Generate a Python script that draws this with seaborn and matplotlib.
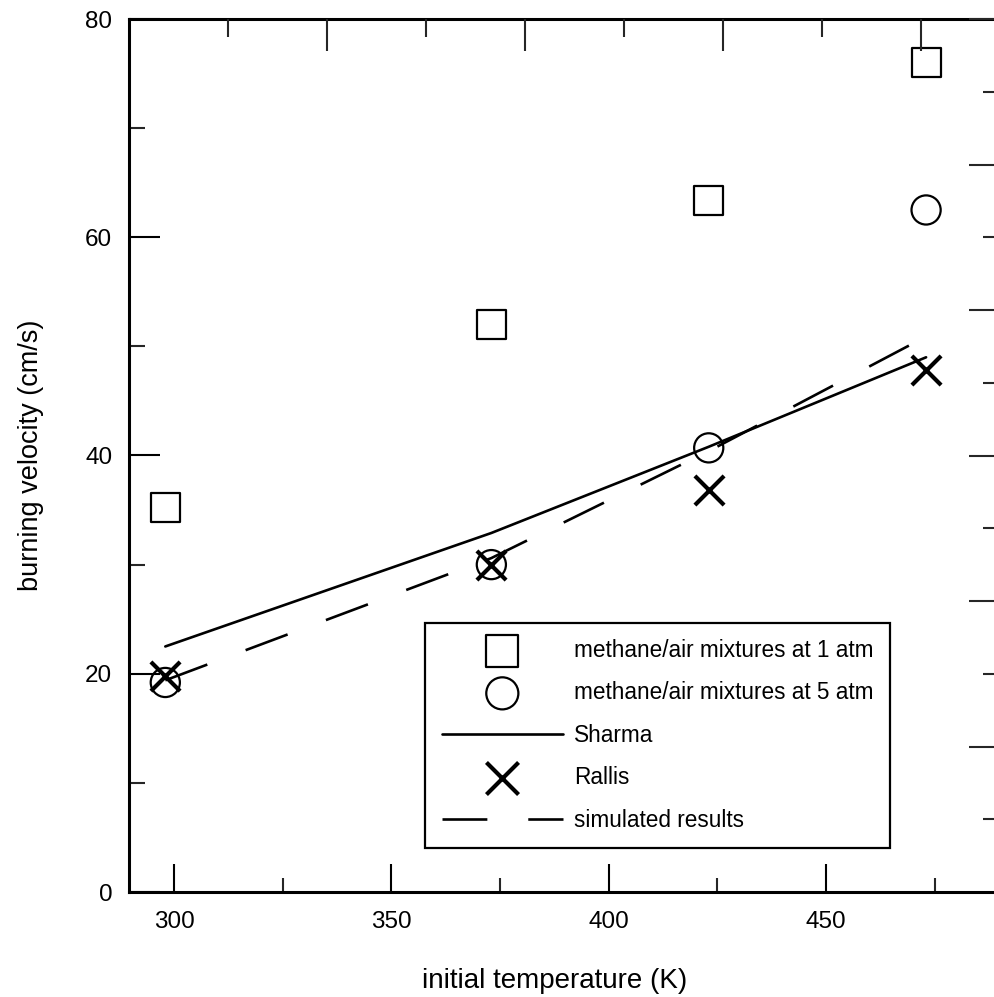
import matplotlib
matplotlib.use("Agg")
import matplotlib.pyplot as plt
from matplotlib.ticker import FixedLocator, NullFormatter
import seaborn as sns
import pandas as pd

# ---- data ----
temps = [298, 373, 423, 473]
v_1atm = [35.2, 52.0, 63.4, 76.0]
v_5atm = [19.2, 30.0, 40.7, 62.5]
sharma = [22.5, 32.9, 40.8, 49.0]
rallis = [19.8, 30.0, 36.8, 47.8]
simulated = [19.4, 30.6, 40.4, 50.9]

x_major = [300, 350, 400, 450]
x_minor = [325, 375, 425, 475]
y_major = [0, 20, 40, 60, 80]
y_minor = [10, 30, 50, 70]

labels = ["methane/air mixtures at 1 atm", "methane/air mixtures at 5 atm",
          "Sharma", "Rallis", "simulated results"]

df = pd.DataFrame({"T": temps, "v1": v_1atm, "v5": v_5atm,
                   "sharma": sharma, "rallis": rallis, "sim": simulated})

sns.set_theme(style="ticks")
plt.rcParams["font.family"] = ["Liberation Sans", "DejaVu Sans"]

W, H = 994, 997
fig = plt.figure(figsize=(W / 100, H / 100), dpi=100)
L, R, T, B = 129, 1000, 19, 892
ax = fig.add_axes([L / W, 1 - B / H, (R - L) / W, (B - T) / H])

ms = 21
sns.scatterplot(data=df, x="T", y="v1", ax=ax, marker="s", s=ms ** 2,
                facecolor="none", edgecolor="black", linewidth=1.6,
                label=labels[0], zorder=3)
sns.scatterplot(data=df, x="T", y="v5", ax=ax, marker="o", s=ms ** 2,
                facecolor="none", edgecolor="black", linewidth=1.6,
                label=labels[1], zorder=3)
sns.lineplot(data=df, x="T", y="sharma", ax=ax, color="black", linewidth=1.9,
             label=labels[2], zorder=2)
sns.scatterplot(data=df, x="T", y="rallis", ax=ax, marker="x", s=ms ** 2,
                color="black", linewidth=3.0, label=labels[3], zorder=3)
sns.lineplot(data=df, x="T", y="sim", ax=ax, color="black", linewidth=1.9,
             linestyle=(0, (17, 15.5)), label=labels[4], zorder=2)

ax.set_xlim(289.65, 490.0)
ax.set_ylim(0, 80)

ax.xaxis.set_major_locator(FixedLocator(x_major))
ax.xaxis.set_minor_locator(FixedLocator(x_minor))
ax.yaxis.set_major_locator(FixedLocator(y_major))
ax.yaxis.set_minor_locator(FixedLocator(y_minor))

ax.tick_params(axis="x", which="major", direction="in", length=20, width=1.5,
               labelsize=17.5, pad=14, colors="black")
ax.tick_params(axis="x", which="minor", direction="in", length=10, width=1.5)
ax.tick_params(axis="y", which="major", direction="in", length=22, width=1.5,
               labelsize=17.5, pad=12, colors="black")
ax.tick_params(axis="y", which="minor", direction="in", length=11.5, width=1.5)
ax.tick_params(top=False, right=False, which="both")

for sp in ax.spines.values():
    sp.set_linewidth(2.2)
    sp.set_color("black")
    sp.set_visible(True)

ax.set_xlabel("initial temperature (K)", fontsize=20, color="black")
ax.set_ylabel("burning velocity (cm/s)", fontsize=19.5, labelpad=30, color="black")
ax.xaxis.set_label_coords((555 - L) / (R - L), -0.087)

# top axis ticks (independent scale)
axt = ax.twiny()
axt.set_xlim(0, 8.8)
axt.xaxis.set_major_locator(FixedLocator([2, 4, 6, 8]))
axt.xaxis.set_minor_locator(FixedLocator([1, 3, 5, 7]))
axt.xaxis.set_major_formatter(NullFormatter())
axt.tick_params(axis="x", which="major", direction="in", length=23, width=1.5)
axt.tick_params(axis="x", which="minor", direction="in", length=13, width=1.5)
for sp in axt.spines.values():
    sp.set_visible(False)

# right axis ticks (independent scale)
axr = ax.twinx()
axr.set_ylim(0, 12)
axr.yaxis.set_major_locator(FixedLocator([2, 4, 6, 8, 10, 12]))
axr.yaxis.set_minor_locator(FixedLocator([1, 3, 5, 7, 9, 11]))
axr.yaxis.set_major_formatter(NullFormatter())
axr.tick_params(axis="y", which="major", direction="in", length=22, width=1.5)
axr.tick_params(axis="y", which="minor", direction="in", length=12, width=1.5)
for sp in axr.spines.values():
    sp.set_visible(False)

# legend
handles, labs = ax.get_legend_handles_labels()
order = [labs.index(l) for l in labels]
leg = ax.legend([handles[i] for i in order], [labs[i] for i in order],
                loc="lower right", bbox_to_anchor=((890 - L) / (R - L), (B - 848) / (B - T)),
                borderaxespad=0, fontsize=16.3, frameon=True, fancybox=False,
                edgecolor="black", framealpha=1, handlelength=5.35,
                handletextpad=0.5, labelspacing=0.86, borderpad=0.72,
                scatterpoints=1, markerscale=1.1)
leg.get_frame().set_linewidth(1.6)
for t in leg.get_texts():
    t.set_color("black")

fig.savefig("out.png", dpi=100, facecolor="white")
